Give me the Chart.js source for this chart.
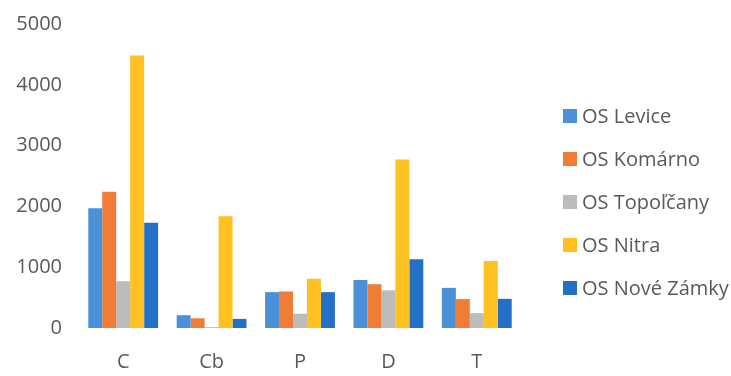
<!DOCTYPE html>
<html>
<head>
<meta charset="utf-8">
<script src="https://cdn.jsdelivr.net/npm/chart.js@4/dist/chart.umd.min.js"></script>
<style>
html,body{margin:0;padding:0;background:#fff;}
#wrap{width:731px;height:376px;position:relative;}
</style>
</head>
<body>
<div id="wrap"><canvas id="c" width="731" height="376"></canvas></div>
<script>
const categories = ['C', 'Cb', 'P', 'D', 'T'];
const seriesNames = ['OS Levice', 'OS Komárno', 'OS Topoľčany', 'OS Nitra', 'OS Nové Zámky'];
const levice     = [1970, 210, 590, 790, 660];
const komarno    = [2240, 160, 600, 720, 475];
const topolcany  = [770,  15,  235, 620, 245];
const nitra      = [4480, 1840, 810, 2770, 1100];
const noveZamky  = [1730, 150, 590, 1130, 480];
const yTicks = [0, 1000, 2000, 3000, 4000, 5000];

const colors = ['#4a91da', '#f17c36', '#bcbcbc', '#ffc122', '#2570c7'];
const seriesValues = [levice, komarno, topolcany, nitra, noveZamky];

const FONT = "'Open Sans', 'Liberation Sans', sans-serif";

const legendPlugin = {
  id: 'customLegend',
  afterDraw(chart) {
    const ctx = chart.ctx;
    ctx.save();
    ctx.font = '20px ' + FONT;
    ctx.textBaseline = 'middle';
    ctx.textAlign = 'left';
    const x0 = 563, y0 = 116, step = 43;
    chart.data.datasets.forEach((ds, i) => {
      const y = y0 + i * step;
      ctx.fillStyle = ds.backgroundColor;
      ctx.fillRect(x0, y - 7, 14, 14);
      ctx.fillStyle = '#595959';
      ctx.fillText(ds.label, x0 + 19, y + 1);
    });
    ctx.restore();
  }
};

new Chart(document.getElementById('c'), {
  type: 'bar',
  data: {
    labels: categories,
    datasets: seriesNames.map((name, i) => ({
      label: name,
      data: seriesValues[i],
      backgroundColor: colors[i],
      borderWidth: 0,
      categoryPercentage: 0.79,
      barPercentage: 1.0
    }))
  },
  options: {
    responsive: false,
    animation: false,
    devicePixelRatio: 1,
    layout: { padding: { top: 24, right: 210, bottom: 0, left: 0 } },
    plugins: {
      legend: { display: false },
      tooltip: { enabled: false }
    },
    scales: {
      x: {
        grid: { display: false, drawTicks: false },
        border: { display: false },
        ticks: {
          color: '#595959',
          font: { family: FONT, size: 20 },
          padding: 22
        },
        afterFit(s) { s.height = 48; }
      },
      y: {
        min: 0,
        max: 5000,
        afterBuildTicks(s) { s.ticks = yTicks.map(v => ({ value: v })); },
        grid: { display: false, drawTicks: false },
        border: { display: false },
        ticks: {
          color: '#595959',
          font: { family: FONT, size: 20 },
          padding: 17,
          callback: (v) => String(v)
        },
        afterFit(s) { s.width = 79; s.paddingTop = 0; s.paddingBottom = 0; }
      }
    }
  },
  plugins: [legendPlugin]
});
</script>
</body>
</html>
